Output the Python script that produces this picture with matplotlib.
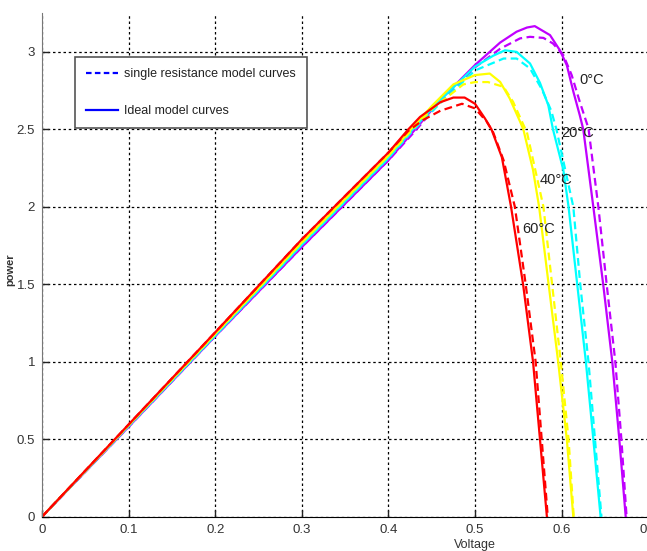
import matplotlib
matplotlib.use("Agg")
import matplotlib.pyplot as plt

# curve data (Voltage, power)
v_rise = [0.0, 0.1, 0.2, 0.3, 0.4]

v_0 = v_rise + [0.431, 0.46, 0.5, 0.529, 0.548, 0.56, 0.569, 0.5866, 0.598, 0.606, 0.6136, 0.621, 0.625, 0.6366, 0.648, 0.6585, 0.6666, 0.674]
p_0 = [0.0, 0.58, 1.165, 1.74, 2.30, 2.5, 2.69, 2.915, 3.06, 3.13, 3.157, 3.166, 3.108, 3.01, 2.914, 2.742, 2.59, 2.5, 2.0, 1.5, 1.0, 0.5, 0.0]
v_0d = v_rise + [0.431, 0.46, 0.5, 0.529, 0.552, 0.5635, 0.579, 0.590, 0.602, 0.6116, 0.621, 0.631, 0.6424, 0.652, 0.662, 0.669, 0.675]
p_0d = [0.0, 0.58, 1.165, 1.74, 2.30, 2.49, 2.68, 2.90, 3.02, 3.087, 3.097, 3.09, 3.054, 2.979, 2.85, 2.677, 2.506, 2.0, 1.5, 1.0, 0.5, 0.0]

v_20 = v_rise + [0.428, 0.46, 0.5, 0.521, 0.5346, 0.548, 0.5635, 0.575, 0.5846, 0.590, 0.602, 0.608, 0.618, 0.628, 0.6366, 0.645]
p_20 = [0.0, 0.585, 1.17, 1.755, 2.315, 2.5, 2.69, 2.905, 2.975, 3.01, 3.0, 2.925, 2.80, 2.656, 2.5, 2.237, 2.0, 1.5, 1.0, 0.5, 0.0]
v_20d = v_rise + [0.428, 0.46, 0.5, 0.533, 0.548, 0.5635, 0.577, 0.588, 0.594, 0.6135, 0.6215, 0.631, 0.6385, 0.646]
p_20d = [0.0, 0.585, 1.17, 1.755, 2.315, 2.49, 2.67, 2.88, 2.957, 2.957, 2.893, 2.76, 2.62, 2.5, 2.0, 1.5, 1.0, 0.5, 0.0]

v_40 = v_rise + [0.426, 0.45, 0.475, 0.5, 0.517, 0.529, 0.540, 0.552, 0.5558, 0.567, 0.574, 0.585, 0.596, 0.606, 0.6135]
p_40 = [0.0, 0.59, 1.18, 1.77, 2.33, 2.5, 2.65, 2.79, 2.85, 2.86, 2.806, 2.70, 2.55, 2.50, 2.237, 2.0, 1.5, 1.0, 0.5, 0.0]
v_40d = v_rise + [0.426, 0.45, 0.4865, 0.5, 0.515, 0.533, 0.544, 0.5558, 0.56, 0.579, 0.589, 0.599, 0.608, 0.614]
p_40d = [0.0, 0.59, 1.18, 1.77, 2.33, 2.49, 2.63, 2.79, 2.805, 2.805, 2.774, 2.677, 2.53, 2.48, 2.0, 1.5, 1.0, 0.5, 0.0]

v_60 = v_rise + [0.423, 0.4365, 0.46, 0.475, 0.488, 0.5, 0.5115, 0.519, 0.531, 0.5416, 0.5555, 0.567, 0.575, 0.583]
p_60 = [0.0, 0.595, 1.19, 1.79, 2.35, 2.5, 2.58, 2.675, 2.705, 2.705, 2.665, 2.57, 2.50, 2.32, 2.0, 1.5, 1.0, 0.5, 0.0]
v_60d = v_rise + [0.423, 0.44, 0.46, 0.485, 0.5, 0.5135, 0.521, 0.533, 0.546, 0.5585, 0.570, 0.577, 0.584]
p_60d = [0.0, 0.595, 1.19, 1.79, 2.35, 2.49, 2.56, 2.62, 2.665, 2.635, 2.55, 2.48, 2.30, 2.0, 1.5, 1.0, 0.5, 0.0]

temp_labels = ["0°C", "20°C", "40°C", "60°C"]
temp_label_v = [0.621, 0.600, 0.575, 0.554]
temp_label_p = [2.817, 2.476, 2.17, 1.857]

x_ticks = [0, 0.1, 0.2, 0.3, 0.4, 0.5, 0.6, 0.7]
x_ticklabels = ["0", "0.1", "0.2", "0.3", "0.4", "0.5", "0.6", "0.7"]
y_ticks = [0, 0.5, 1, 1.5, 2, 2.5, 3]
y_ticklabels = ["0", "0.5", "1", "1.5", "2", "2.5", "3"]

plt.rcParams["font.family"] = ["Liberation Sans", "DejaVu Sans"]

fig = plt.figure(figsize=(6.47, 5.51), dpi=100)
ax = fig.add_axes([0.0649, 0.0622, 0.937, 0.914])

curves = [
    (v_0, p_0, v_0d, p_0d, "#C000FF"),
    (v_20, p_20, v_20d, p_20d, "#00FFFF"),
    (v_40, p_40, v_40d, p_40d, "#FFFF00"),
    (v_60, p_60, v_60d, p_60d, "#FF0000"),
]
for vs, ps, vd, pd, c in curves:
    ax.plot(vs, ps, color=c, lw=1.6, solid_joinstyle="round")
    ax.plot(vd, pd, color=c, lw=1.6, ls=(0, (3.5, 2)))

for t, tv, tp in zip(temp_labels, temp_label_v, temp_label_p):
    ax.text(tv, tp, t, fontsize=10.5, color="#222222", ha="left", va="center")

# legend
h1, = ax.plot([], [], color="#0000FF", lw=1.6, ls=(0, (2.5, 1.5)))
h2, = ax.plot([], [], color="#0000FF", lw=1.6)
leg = ax.legend([h1, h2], ["single resistance model curves", "Ideal model curves"],
                loc="upper left", bbox_to_anchor=(0.0545, 0.913), borderaxespad=0,
                fancybox=False, framealpha=1, edgecolor="#555555", fontsize=9,
                labelspacing=2.0, handlelength=2.5, handletextpad=0.55,
                borderpad=0.9)
leg.get_frame().set_linewidth(1.2)
for t in leg.get_texts():
    t.set_color("#222222")

ax.set_xlim(0, 0.7)
ax.set_ylim(0, 3.25)
ax.set_xticks(x_ticks)
ax.set_xticklabels(x_ticklabels)
ax.set_yticks(y_ticks)
ax.set_yticklabels(y_ticklabels)
ax.tick_params(direction="in", length=5, width=1, labelsize=9.5,
               labelcolor="#333333", color="#222222", pad=5)

ax.grid(True, color="black", ls=(0, (2, 2.2)), lw=0.9)
ax.spines["top"].set_visible(False)
ax.spines["right"].set_visible(False)
ax.spines["left"].set_color("#777777")
ax.spines["bottom"].set_color("black")

ax.set_xlabel("Voltage", fontsize=9, color="#333333")
ax.xaxis.set_label_coords(0.7145, -0.045)
ax.set_ylabel("power", fontsize=8, color="#333333", fontweight="bold")
ax.yaxis.set_label_coords(-0.052, 0.49)
ax.yaxis.label.set_va("center")

fig.savefig("out.png", dpi=100)
